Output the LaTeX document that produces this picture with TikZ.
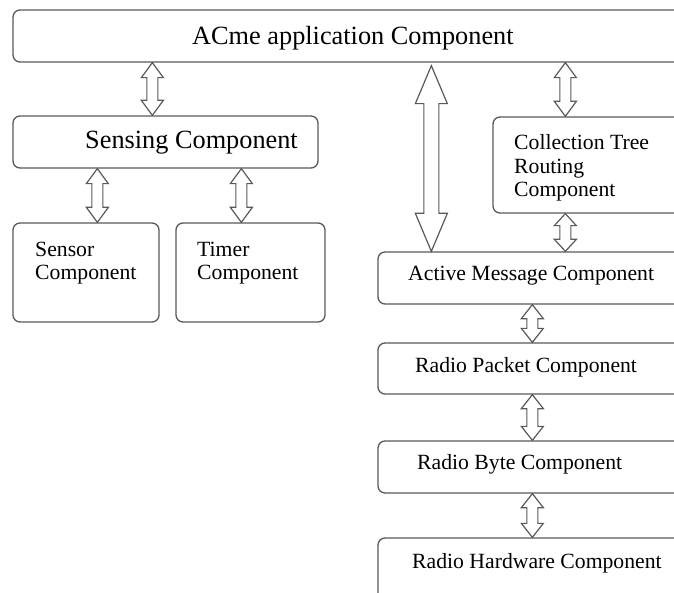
\documentclass[tikz,border=0pt]{standalone}
\usepackage{fontspec}
\setmainfont{Liberation Serif}
\usetikzlibrary{fit,calc}
\definecolor{linegray}{HTML}{5A5A5A}
\tikzset{
 box/.style={draw=linegray, line width=1.3pt, rounded corners=7pt, inner sep=0pt},
 bigtxt/.style={anchor=base west, inner sep=0pt, font=\fontsize{26.3}{28}\selectfont},
 txt/.style={anchor=base west, inner sep=0pt, align=left, font=\fontsize{21.7}{23.5}\selectfont},
 arr/.style={draw=linegray, line width=1.2pt, fill=white, line join=miter},
}
% #1 upper end (y only), #2 lower end (x and y), #3 shaft half width, #4 head half width, #5 head length
\newcommand\hollowarrow[5]{%
 \draw[arr] let \p1=#1, \p2=#2 in
  (\x2,\y1) -- (\x2+#4pt,\y1-#5pt) -- (\x2+#3pt,\y1-#5pt) -- (\x2+#3pt,\y2+#5pt)
  -- (\x2+#4pt,\y2+#5pt) -- (\x2,\y2) -- (\x2-#4pt,\y2+#5pt) -- (\x2-#3pt,\y2+#5pt)
  -- (\x2-#3pt,\y1-#5pt) -- (\x2-#4pt,\y1-#5pt) -- cycle;}
\begin{document}
\begin{tikzpicture}[x=1pt,y=-1pt]
\useasboundingbox (0,0) rectangle (674,593);
\clip (0,0) rectangle (674,593);
\fill[white] (0,0) rectangle (674,593);
% boxes
\node[box, fit={(13,10) (700,62)}] (top) {};
\node[box, fit={(13,116) (318,168)}] (sensing) {};
\node[box, fit={(13,223) (159,322)}] (sensor) {};
\node[box, fit={(176,223) (325,322)}] (timer) {};
\node[box, fit={(493,117) (700,213)}] (coll) {};
\node[box, fit={(378,252) (700,304)}] (active) {};
\node[box, fit={(378,343) (700,394)}] (packet) {};
\node[box, fit={(378,441) (700,493)}] (byte) {};
\node[box, fit={(378,538) (700,640)}] (hw) {};
% texts
\node[bigtxt] (ttop) at (192,45) {ACme application Component};
\node[bigtxt] (tsensing) at (85,149) {Sensing Component};
\node[txt] (tsensor) at (35,280) {Sensor\\Component};
\node[txt] (ttimer) at (197,280) {Timer\\Component};
\node[txt] (tcoll) at (514,197) {Collection Tree\\Routing\\Component};
\node[txt] (tactive) at (408,281) {Active Message Component};
\node[txt] (tpacket) at (415,372) {Radio Packet Component};
\node[txt] (tbyte) at (417,469) {Radio Byte Component};
\node[txt] (thw) at (412,568) {Radio Hardware Component};
% connectors
\hollowarrow{(top.south)}{([xshift=140pt]sensing.north west)}{5.5}{11}{15}
\hollowarrow{(sensing.south)}{([xshift=85pt]sensor.north west)}{5.5}{11}{15}
\hollowarrow{(sensing.south)}{([xshift=66pt]timer.north west)}{5.5}{11}{15}
\hollowarrow{([yshift=-3pt]top.south)}{([xshift=54pt]active.north west)}{7.5}{16}{38}
\hollowarrow{(top.south)}{([xshift=73pt]coll.north west)}{5.5}{11}{15}
\hollowarrow{(coll.south)}{([xshift=188pt]active.north west)}{5.5}{11}{12}
\hollowarrow{(active.south)}{([xshift=155pt]packet.north west)}{5.5}{11}{14}
\hollowarrow{(packet.south)}{([xshift=155pt]byte.north west)}{5.5}{11}{14}
\hollowarrow{(byte.south)}{([xshift=155pt]hw.north west)}{5.5}{11}{14}
\end{tikzpicture}
\end{document}
